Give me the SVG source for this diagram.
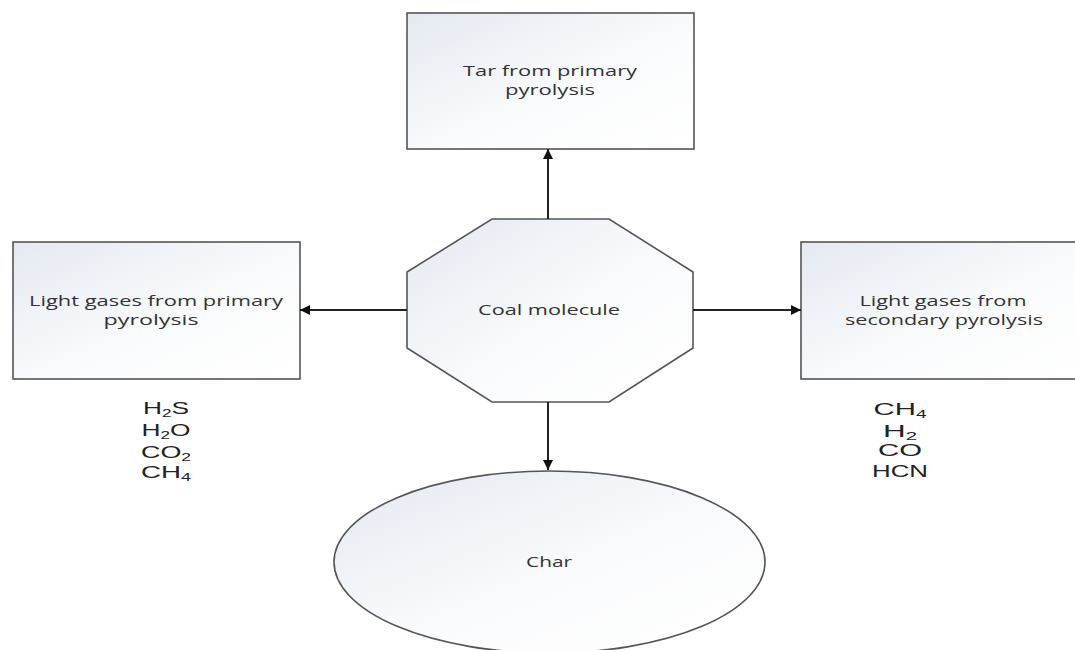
<svg xmlns="http://www.w3.org/2000/svg" width="1075" height="650" viewBox="0 0 1075 650">
<defs>
<linearGradient id="fill" x1="0" y1="0" x2="1" y2="1">
<stop offset="0" stop-color="#e4e9f1"/>
<stop offset="0.6" stop-color="#fbfcfd"/>
<stop offset="1" stop-color="#ffffff"/>
</linearGradient>
<marker id="arr" viewBox="0 0 10 10" refX="10" refY="5" markerWidth="11" markerHeight="10" markerUnits="userSpaceOnUse" orient="auto">
<path d="M0,0 L10,5 L0,10 z" fill="#111"/>
</marker>
<style>
.shape{fill:url(#fill);stroke:#555;stroke-width:1.6}
.lbl{font-family:"Open Sans","Noto Sans",sans-serif;font-size:14px;fill:#333;text-anchor:middle}
.chem{font-family:"Liberation Sans",Arial,sans-serif;font-size:17px;fill:#222;text-anchor:middle}
.sub{font-size:11px}
.conn{stroke:#222;stroke-width:2;fill:none;marker-end:url(#arr)}
</style>
</defs>
<rect width="1075" height="650" fill="#fff"/>
<g id="tar">
<rect class="shape" x="407" y="13" width="287" height="136"/>
<text class="lbl" x="550" y="76" textLength="174" lengthAdjust="spacingAndGlyphs">Tar from primary</text>
<text class="lbl" x="550" y="95" textLength="90" lengthAdjust="spacingAndGlyphs">pyrolysis</text>
</g>
<g id="light-primary">
<rect class="shape" x="13" y="242" width="287" height="137"/>
<text class="lbl" x="156" y="306" textLength="254" lengthAdjust="spacingAndGlyphs">Light gases from primary</text>
<text class="lbl" x="151" y="325" textLength="95" lengthAdjust="spacingAndGlyphs">pyrolysis</text>
</g>
<g id="light-secondary">
<rect class="shape" x="801" y="242" width="285" height="137"/>
<text class="lbl" x="943" y="306" textLength="167" lengthAdjust="spacingAndGlyphs">Light gases from</text>
<text class="lbl" x="944" y="325" textLength="198" lengthAdjust="spacingAndGlyphs">secondary pyrolysis</text>
</g>
<g id="coal">
<polygon class="shape" points="492,219 609,219 693,272 693,348 609,402 492,402 407,348 407,272"/>
<text class="lbl" x="549" y="315" textLength="142" lengthAdjust="spacingAndGlyphs">Coal molecule</text>
</g>
<g id="char">
<ellipse class="shape" cx="549.5" cy="562" rx="215.5" ry="91"/>
<text class="lbl" x="549" y="567" textLength="46" lengthAdjust="spacingAndGlyphs">Char</text>
</g>
<g id="primary-gases">
<text class="chem" x="166" y="414" textLength="46" lengthAdjust="spacingAndGlyphs">H<tspan class="sub" dy="3">2</tspan><tspan dy="-3">S</tspan></text>
<text class="chem" x="166" y="436" textLength="49" lengthAdjust="spacingAndGlyphs">H<tspan class="sub" dy="3">2</tspan><tspan dy="-3">O</tspan></text>
<text class="chem" x="166" y="458" textLength="50" lengthAdjust="spacingAndGlyphs">CO<tspan class="sub" dy="3">2</tspan></text>
<text class="chem" x="166" y="478" textLength="50" lengthAdjust="spacingAndGlyphs">CH<tspan class="sub" dy="3">4</tspan></text>
</g>
<g id="secondary-gases">
<text class="chem" x="900" y="415" textLength="53" lengthAdjust="spacingAndGlyphs">CH<tspan class="sub" dy="3">4</tspan></text>
<text class="chem" x="900" y="437" textLength="34" lengthAdjust="spacingAndGlyphs">H<tspan class="sub" dy="3">2</tspan></text>
<text class="chem" x="900" y="456" textLength="44" lengthAdjust="spacingAndGlyphs">CO</text>
<text class="chem" x="900" y="477" textLength="56" lengthAdjust="spacingAndGlyphs">HCN</text>
</g>
<g id="connectors">
<line class="conn" x1="548" y1="219" x2="548" y2="149"/>
<line class="conn" x1="407" y1="310" x2="300" y2="310"/>
<line class="conn" x1="693" y1="310" x2="801" y2="310"/>
<line class="conn" x1="548" y1="402" x2="548" y2="470"/>
</g>
</svg>
